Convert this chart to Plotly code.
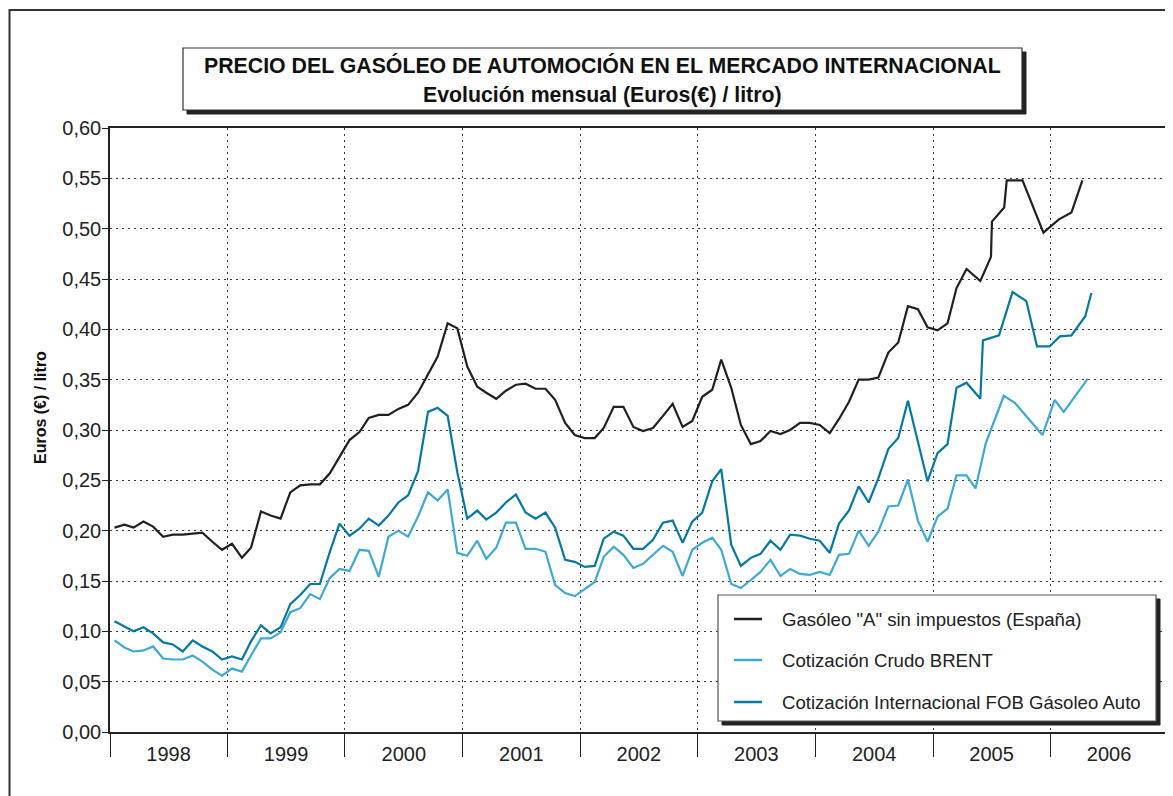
import plotly.graph_objects as go

# ---------------- data ----------------
years = [str(y) for y in range(1998, 2007)]
year_centers = [f"{y}-07-02" for y in range(1998, 2007)]
year_bounds = [f"{y}-01-01" for y in range(1998, 2008)]

# monthly observations Jan 1998 - Apr 2005
months = [f"{y}-{m:02d}-15" for y in range(1998, 2006) for m in range(1, 13)][:88]

gasoleo = [
    0.203, 0.206, 0.203, 0.209, 0.204, 0.194, 0.196, 0.196, 0.197, 0.198, 0.189, 0.181,
    0.187, 0.173, 0.183, 0.219, 0.215, 0.212, 0.238, 0.245, 0.246, 0.246, 0.257, 0.273,
    0.290, 0.298, 0.312, 0.315, 0.315, 0.321, 0.325, 0.337, 0.356, 0.373, 0.406, 0.401,
    0.363, 0.343, 0.337, 0.331, 0.339, 0.345, 0.346, 0.341, 0.341, 0.330, 0.307, 0.295,
    0.292, 0.292, 0.302, 0.323, 0.323, 0.303, 0.299, 0.302, 0.314, 0.326, 0.303, 0.309,
    0.333, 0.340, 0.370, 0.342, 0.305, 0.286, 0.289, 0.299, 0.296, 0.300, 0.307, 0.307,
    0.305, 0.297, 0.311, 0.328, 0.350, 0.350, 0.352, 0.377, 0.387, 0.423, 0.420, 0.402,
    0.399, 0.406, 0.441, 0.460,
]
gasoleo_tail_dates = ["2005-05-28", "2005-06-30", "2005-07-03", "2005-08-10", "2005-08-18",
                      "2005-10-06", "2005-12-10", "2006-01-26", "2006-03-07", "2006-04-10"]
gasoleo_tail = [0.448, 0.472, 0.507, 0.521, 0.548, 0.548, 0.496, 0.509, 0.516, 0.548]

brent = [
    0.091, 0.084, 0.080, 0.081, 0.085, 0.073, 0.072, 0.072, 0.076, 0.070, 0.062, 0.056,
    0.063, 0.060, 0.076, 0.093, 0.093, 0.099, 0.119, 0.123, 0.137, 0.132, 0.153, 0.162,
    0.160, 0.181, 0.180, 0.154, 0.194, 0.200, 0.194, 0.214, 0.238, 0.230, 0.241, 0.178,
    0.175, 0.190, 0.172, 0.183, 0.208, 0.208, 0.182, 0.182, 0.179, 0.146, 0.138, 0.135,
    0.142, 0.149, 0.174, 0.184, 0.176, 0.163, 0.167, 0.176, 0.185, 0.179, 0.155, 0.181,
    0.188, 0.193, 0.181, 0.147, 0.143, 0.151, 0.159, 0.171, 0.155, 0.162, 0.157, 0.156,
    0.159, 0.156, 0.176, 0.177, 0.200, 0.185, 0.199, 0.224, 0.225, 0.251, 0.210, 0.189,
    0.214, 0.222, 0.255, 0.255,
]
brent_tail_dates = ["2005-05-13", "2005-06-14", "2005-08-09", "2005-09-12", "2005-12-07",
                    "2006-01-14", "2006-02-11", "2006-04-27"]
brent_tail = [0.242, 0.287, 0.334, 0.327, 0.295, 0.330, 0.318, 0.351]

fob = [
    0.110, 0.105, 0.100, 0.104, 0.098, 0.089, 0.087, 0.080, 0.091, 0.085, 0.080, 0.072,
    0.075, 0.072, 0.090, 0.106, 0.098, 0.104, 0.127, 0.136, 0.147, 0.147, 0.179, 0.207,
    0.195, 0.202, 0.212, 0.205, 0.215, 0.228, 0.235, 0.259, 0.318, 0.322, 0.314, 0.258,
    0.212, 0.220, 0.211, 0.218, 0.228, 0.236, 0.218, 0.212, 0.218, 0.203, 0.171, 0.169,
    0.164, 0.165, 0.192, 0.199, 0.195, 0.182, 0.182, 0.191, 0.208, 0.210, 0.188, 0.209,
    0.218, 0.249, 0.261, 0.186, 0.165, 0.173, 0.177, 0.190, 0.181, 0.196, 0.195, 0.192,
    0.190, 0.178, 0.207, 0.220, 0.244, 0.228, 0.252, 0.281, 0.292, 0.329, 0.287, 0.249,
    0.277, 0.286, 0.342, 0.347,
]
fob_tail_dates = ["2005-05-28", "2005-06-05", "2005-07-25", "2005-09-05", "2005-10-18",
                  "2005-11-20", "2005-12-29", "2006-01-30", "2006-03-07", "2006-04-19",
                  "2006-05-08"]
fob_tail = [0.331, 0.389, 0.394, 0.437, 0.428, 0.383, 0.383, 0.393, 0.394, 0.413, 0.436]

names = ['Gasóleo "A" sin impuestos (España)',
         'Cotización Crudo BRENT',
         'Cotización Internacional FOB Gásoleo Auto']
colors = ["#231f20", "#3ea9d3", "#0579a2"]

title1 = "PRECIO DEL GASÓLEO DE AUTOMOCIÓN EN EL MERCADO INTERNACIONAL"
title2 = "Evolución mensual (Euros(€) / litro)"
ytitle = "Euros (€) / litro"

FONT = "Liberation Sans, Arial, Helvetica, sans-serif"
INK = "#222222"
GRID = "#3a3a3a"

# ---------------- figure ----------------
W, H = 1173, 796
OFF = 8                       # page body margin
ML, MT = 102, 120
PW, PH = 1058, 604
MR = W - ML - PW
MB = H - MT - PH


def px(xs):                   # screen x -> paper
    return (xs - OFF - ML) / PW


def py(ys):                   # screen y -> paper
    return (OFF + MT + PH - ys) / PH


fig = go.Figure()
series = [
    (months + gasoleo_tail_dates, gasoleo + gasoleo_tail),
    (months + brent_tail_dates, brent + brent_tail),
    (months + fob_tail_dates, fob + fob_tail),
]
for (xs, ys), name, col in zip(series, names, colors):
    fig.add_trace(go.Scatter(x=xs, y=ys, mode="lines", name=name,
                             line=dict(color=col, width=2.2),
                             showlegend=False))

shapes = []
# outer frame
shapes.append(dict(type="rect", xref="paper", yref="paper",
                   x0=px(9.5), x1=px(1200), y0=py(820), y1=py(10),
                   line=dict(color="#333333", width=2), fillcolor="rgba(0,0,0,0)",
                   layer="below"))
# title box shadow + box
shapes.append(dict(type="rect", xref="paper", yref="paper",
                   x0=px(187), x1=px(1026), y0=py(114), y1=py(52),
                   line=dict(color="#222222", width=1), fillcolor="#222222"))
shapes.append(dict(type="rect", xref="paper", yref="paper",
                   x0=px(183), x1=px(1022), y0=py(110), y1=py(48),
                   line=dict(color="#333333", width=1.2), fillcolor="white"))
# legend box shadow + box
shapes.append(dict(type="rect", xref="paper", yref="paper",
                   x0=px(722), x1=px(1160), y0=py(725), y1=py(599),
                   line=dict(color="#222222", width=1), fillcolor="#222222"))
shapes.append(dict(type="rect", xref="paper", yref="paper",
                   x0=px(718), x1=px(1156), y0=py(721), y1=py(595),
                   line=dict(color="#555555", width=1.2), fillcolor="white"))

annotations = [
    dict(text=f"<b>{title1}</b>", xref="paper", yref="paper", x=px(602), y=py(65),
         xanchor="center", yanchor="middle", showarrow=False,
         font=dict(family=FONT, size=21.3, color="#111111")),
    dict(text=f"<b>{title2}</b>", xref="paper", yref="paper", x=px(602), y=py(95),
         xanchor="center", yanchor="middle", showarrow=False,
         font=dict(family=FONT, size=21.3, color="#111111")),
    dict(text=f"<b>{ytitle}</b>", xref="paper", yref="paper", x=px(40), y=py(408),
         xanchor="center", yanchor="middle", showarrow=False, textangle=-90,
         font=dict(family=FONT, size=16, color="#111111")),
]

leg_y = [619, 660, 702]
for name, col, ly in zip(names, colors, leg_y):
    shapes.append(dict(type="line", xref="paper", yref="paper",
                       x0=px(734), x1=px(762), y0=py(ly), y1=py(ly),
                       line=dict(color=col, width=2.5)))
    annotations.append(dict(text=name, xref="paper", yref="paper", x=px(780), y=py(ly),
                            xanchor="left", yanchor="middle", showarrow=False,
                            font=dict(family=FONT, size=18.6, color="#222222")))

fig.update_layout(
    width=W, height=H,
    margin=dict(l=ML, r=MR, t=MT, b=MB, pad=0),
    paper_bgcolor="white", plot_bgcolor="white",
    separators=",.",
    font=dict(family=FONT, color=INK),
    shapes=shapes, annotations=annotations,
    showlegend=False,
)
fig.update_xaxes(
    type="date", range=["1998-01-01", "2007-01-01"],
    tickmode="array", tickvals=year_centers, ticktext=years,
    ticks="", showgrid=False, zeroline=False,
    showline=True, linecolor=INK, linewidth=1.5, mirror=True,
    tickfont=dict(family=FONT, size=20, color=INK),
    ticklabelstandoff=3,
    minor=dict(tickmode="array", tickvals=year_bounds, ticks="outside", ticklen=23,
               tickwidth=1.3, tickcolor=INK, showgrid=True, gridcolor=GRID,
               gridwidth=1, griddash="1.5px,4.5px"),
)
fig.update_yaxes(
    range=[0, 0.6], dtick=0.05, tick0=0, tickformat=".2f",
    ticks="outside", ticklen=6, tickwidth=1.2, tickcolor=INK,
    showline=True, linecolor=INK, linewidth=1.5, mirror=True,
    showgrid=True, gridcolor=GRID, gridwidth=1, griddash="1.5px,4.5px",
    zeroline=False,
    ticklabelstandoff=-3,
    tickfont=dict(family=FONT, size=20, color=INK),
)

fig.write_html("out.html")
